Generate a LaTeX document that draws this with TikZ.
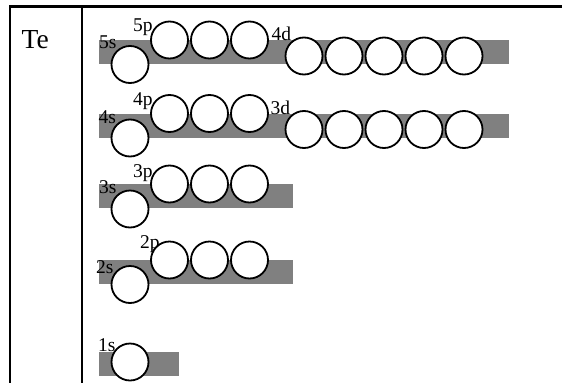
\documentclass[tikz,border=0pt]{standalone}
\usepackage{fontspec}
\setmainfont{Liberation Serif}
\tikzset{
  orb/.style={circle, draw=black, fill=white, line width=1.8pt, minimum size=37pt, inner sep=0pt},
  bar/.style={fill=black!50, draw=none},
  lab/.style={anchor=base west, inner sep=0pt, font=\fontsize{19.5}{19.5}\selectfont},
  rule/.style={line width=2.2pt, black},
}
\begin{document}
\begin{tikzpicture}[x=1pt, y=-1pt]
\useasboundingbox (0,0) rectangle (562,383);
% table lines
\coordinate (tl) at (10,6.5);
\coordinate (tr) at (562,6.5);
\coordinate (bl) at (10,383);
\coordinate (dt) at (82,6.5);
\coordinate (db) at (82,383);
\draw[rule] (tr) -- (tl) -- (bl);
\draw[rule] (dt) -- (db);
\node[anchor=base west, inner sep=0pt, font=\fontsize{27.5}{27.5}\selectfont] (te) at (21.5,48.3) {Te};
% bars
\fill[bar] (99,40) rectangle (509,63.5);
\fill[bar] (99,113.5) rectangle (509,137.5);
\fill[bar] (99,184) rectangle (293,208);
\fill[bar] (99,260) rectangle (293,283.5);
\fill[bar] (99,352) rectangle (179,376);
% row 5
\node[orb] (s5) at (130,64.5) {};
\node[orb] (p5a) at (169.5,40) {};
\node[orb] (p5b) at (209.5,40) {};
\node[orb] (p5c) at (249.5,40) {};
\node[orb] (d4a) at (304,56) {};
\node[orb] (d4b) at (344,56) {};
\node[orb] (d4c) at (384,56) {};
\node[orb] (d4d) at (424,56) {};
\node[orb] (d4e) at (464,56) {};
% row 4
\node[orb] (s4) at (130,138) {};
\node[orb] (p4a) at (169.5,113.5) {};
\node[orb] (p4b) at (209.5,113.5) {};
\node[orb] (p4c) at (249.5,113.5) {};
\node[orb] (d3a) at (304,129.5) {};
\node[orb] (d3b) at (344,129.5) {};
\node[orb] (d3c) at (384,129.5) {};
\node[orb] (d3d) at (424,129.5) {};
\node[orb] (d3e) at (464,129.5) {};
% row 3
\node[orb] (s3) at (130,209) {};
\node[orb] (p3a) at (169.5,184) {};
\node[orb] (p3b) at (209.5,184) {};
\node[orb] (p3c) at (249.5,184) {};
% row 2
\node[orb] (s2) at (130,284.5) {};
\node[orb] (p2a) at (169.5,260) {};
\node[orb] (p2b) at (209.5,260) {};
\node[orb] (p2c) at (249.5,260) {};
% row 1
\node[orb] (s1) at (130,362) {};
% labels
\node[lab] (l5s) at (99,48) {5s};
\node[lab] (l5p) at (133,31) {5p};
\node[lab] (l4d) at (271.5,40) {4d};
\node[lab] (l4s) at (98.5,123) {4s};
\node[lab] (l4p) at (133,105) {4p};
\node[lab] (l3d) at (270.5,114) {3d};
\node[lab] (l3s) at (99,193) {3s};
\node[lab] (l3p) at (133,177) {3p};
\node[lab] (l2s) at (96,273) {2s};
\node[lab] (l2p) at (140,248) {2p};
\node[lab] (l1s) at (98,351.5) {1s};
\end{tikzpicture}
\end{document}
